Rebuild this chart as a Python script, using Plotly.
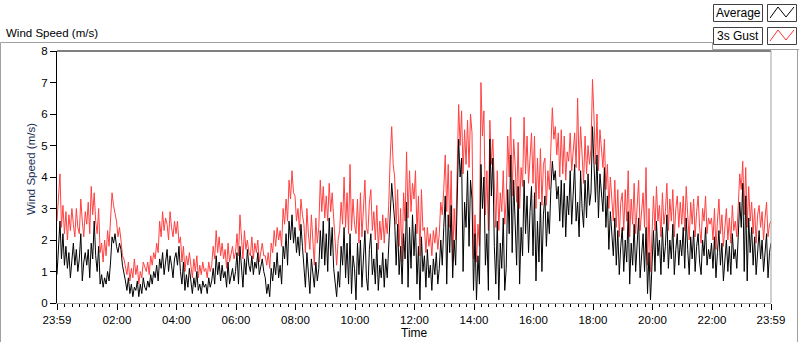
import plotly.graph_objects as go

# ---- data (wind speed, m/s), one sample every 3 minutes from 23:59 to 23:59 ----
step_minutes = 3
avg_speed = [
    0.9,2.0,2.6,1.4,2.2,1.2,1.8,1.1,1.6,0.8,1.5,1.9,1.2,1.7,1.0,1.4,2.2,0.7,1.3,1.6,
    1.2,1.7,0.8,1.9,1.4,2.6,1.5,1.0,1.8,0.6,0.9,0.5,0.8,0.6,1.0,0.7,1.3,2.1,1.9,2.2,
    1.8,1.6,1.9,1.7,1.2,1.0,0.7,0.4,0.8,0.3,0.6,0.2,0.5,0.4,0.7,0.2,0.6,0.3,0.8,0.5,
    0.4,0.7,0.5,0.9,0.6,1.0,0.8,1.2,0.7,1.4,1.1,1.6,0.9,1.3,1.7,1.0,1.5,1.2,0.8,1.4,
    1.6,1.2,1.8,1.0,0.6,1.3,0.4,0.9,0.5,1.1,0.7,0.3,0.8,0.5,1.0,0.4,0.6,0.3,0.7,0.5,
    0.6,0.3,0.8,0.5,0.7,1.1,0.6,1.5,0.9,1.3,0.7,1.2,0.8,1.0,0.5,1.3,0.6,0.9,1.1,0.7,
    1.0,1.6,0.6,1.8,1.1,0.5,1.4,0.9,1.7,1.2,1.0,1.5,0.9,1.3,1.1,1.6,0.9,1.2,1.4,1.0,
    0.8,0.3,0.6,0.2,1.1,0.7,1.3,0.9,1.6,0.8,1.2,0.6,1.8,1.4,2.2,1.2,2.6,2.0,2.8,1.9,
    2.4,1.6,2.1,1.5,2.5,1.8,1.2,0.5,1.6,0.9,0.3,1.4,0.8,0.5,1.3,0.7,1.1,2.3,1.4,2.6,
    1.2,2.2,1.0,2.7,1.5,2.4,1.1,0.6,0.2,1.0,0.5,1.8,1.2,2.4,0.8,1.9,0.6,2.2,0.3,1.5,
    1.1,0.1,1.9,0.9,2.0,0.5,1.6,2.3,0.8,0.4,1.7,2.2,0.9,1.4,0.6,1.9,0.4,1.2,0.8,1.6,
    0.5,1.4,0.8,1.8,3.0,3.8,3.2,2.6,1.2,2.5,0.9,1.8,0.6,2.2,1.4,3.2,0.5,2.4,1.1,2.8,
    1.5,2.5,0.6,1.8,0.1,2.1,1.0,1.5,0.5,1.7,0.8,1.2,0.4,1.4,0.9,1.6,0.6,1.1,2.0,1.2,
    2.4,3.4,0.6,2.8,1.6,3.1,0.8,2.0,1.2,3.6,5.2,4.0,4.6,1.0,3.2,2.4,4.2,1.8,3.9,3.3,
    0.4,2.2,0.1,1.5,0.6,4.4,3.0,4.0,1.2,2.2,0.4,5.2,3.4,4.6,1.8,0.6,2.6,0.1,1.9,1.1,
    2.7,0.4,1.1,3.6,2.2,4.7,1.6,3.9,2.8,1.2,3.7,0.6,2.4,1.5,3.9,2.2,3.4,1.6,2.9,3.7,
    1.5,3.5,0.7,2.6,1.3,3.2,1.0,2.8,3.4,1.8,2.9,2.2,3.6,4.5,3.9,4.2,3.3,3.7,2.6,3.9,
    2.4,3.8,2.1,3.4,2.8,4.2,2.5,3.6,4.4,2.6,3.2,2.1,4.2,3.0,2.4,3.9,2.7,4.1,3.1,3.5,
    5.6,4.4,3.2,4.7,2.7,4.1,3.5,2.9,4.3,2.4,3.4,1.7,2.9,2.2,1.5,2.7,1.2,2.3,0.9,1.8,
    2.4,1.0,2.0,1.3,2.9,0.6,1.9,1.2,2.5,1.0,1.8,2.7,0.8,1.5,2.2,1.0,2.4,0.3,1.6,0.1,
    1.3,2.3,1.0,2.6,1.5,2.0,0.9,2.4,1.3,1.8,2.8,1.1,2.0,1.4,2.5,0.9,1.7,2.2,1.2,2.0,
    1.5,2.4,1.1,2.7,1.7,0.9,2.1,1.4,2.3,1.0,1.8,2.2,1.3,0.9,2.0,1.5,2.4,1.2,1.7,1.4,
    1.9,1.1,2.1,0.8,1.6,2.3,1.2,1.9,0.7,1.5,2.0,1.0,1.8,0.9,2.2,1.4,1.7,1.1,2.0,3.2,
    2.4,3.8,1.0,3.4,0.7,2.7,1.6,2.4,1.2,2.1,0.9,1.8,2.3,1.4,2.0,1.0,1.7,2.2,0.8,1.6,
    1.9,
]
gust_speed = [
    2.6,3.2,4.1,2.4,3.1,2.2,2.9,2.0,2.8,2.3,3.0,2.5,2.1,3.0,2.4,2.2,3.3,2.6,2.1,2.9,
    2.5,3.2,2.2,3.7,2.8,3.5,2.6,2.2,3.0,1.6,1.9,1.3,2.0,1.5,2.3,1.8,2.6,3.5,3.1,2.9,
    2.6,2.1,2.4,2.0,1.5,1.4,1.2,0.9,1.3,0.7,1.1,0.8,1.4,0.9,1.2,0.6,1.0,0.8,1.3,1.1,
    1.0,1.3,0.9,1.5,1.2,1.6,1.4,1.9,1.6,2.6,2.1,2.9,2.3,2.7,2.5,2.0,2.9,2.4,2.1,2.6,
    2.2,2.6,1.9,2.1,1.3,1.8,1.0,1.5,1.2,1.6,1.1,0.8,1.4,1.0,1.5,0.8,1.2,0.9,1.3,1.0,
    1.1,0.8,1.3,1.0,1.2,1.8,1.4,2.3,1.6,2.1,1.5,1.9,1.4,1.7,1.1,1.9,1.3,1.6,1.8,1.4,
    1.6,2.2,1.5,2.8,1.9,1.4,2.3,1.7,2.0,1.6,1.5,2.1,1.4,1.9,1.6,2.0,1.3,1.7,1.9,1.5,
    1.5,1.2,1.6,1.1,1.9,1.6,2.3,1.8,2.4,2.0,2.3,1.8,3.0,2.5,3.3,2.6,3.9,3.3,4.2,3.5,
    3.4,2.6,3.0,2.3,3.3,2.8,2.5,1.6,3.0,2.2,1.7,2.8,2.1,1.2,2.7,1.9,2.4,3.9,2.9,3.7,
    2.7,3.4,2.6,3.8,2.9,3.5,2.7,1.9,1.2,2.0,2.3,3.2,2.5,4.0,2.4,3.5,2.2,4.4,2.3,3.3,
    2.5,2.2,3.3,1.9,3.5,2.1,3.0,3.9,2.4,2.2,3.2,3.6,2.3,2.9,2.0,3.1,1.7,2.6,2.0,2.8,
    1.9,2.7,2.2,3.1,4.6,5.6,4.4,4.0,2.5,3.6,1.8,3.0,1.3,3.5,2.6,4.8,2.7,4.2,2.9,3.8,
    3.3,4.2,2.2,3.4,1.5,3.6,2.3,2.4,1.6,2.4,1.8,2.2,1.5,2.3,1.9,2.4,1.7,2.2,3.2,2.8,
    3.6,4.7,2.9,4.4,2.4,4.2,1.3,3.0,2.0,4.8,6.3,5.0,6.1,4.1,5.5,4.4,5.8,4.3,6.0,5.4,
    1.4,2.8,1.3,2.5,1.8,7.0,5.3,6.1,2.8,4.2,2.3,5.8,4.4,5.2,3.6,2.4,4.2,2.3,3.5,2.9,
    4.2,2.5,3.3,5.3,4.0,5.9,3.4,5.2,4.4,3.2,5.1,3.0,4.3,3.7,5.9,4.1,5.3,3.8,4.6,5.4,
    3.8,5.3,3.0,4.6,3.3,4.9,3.1,4.4,4.6,3.1,4.2,3.6,4.9,6.2,5.2,5.6,4.7,5.4,4.0,5.5,
    4.1,5.3,3.9,4.8,4.5,5.4,4.2,5.0,5.4,4.3,6.5,4.2,5.6,4.7,3.8,5.3,4.1,5.0,4.4,4.9,
    7.1,5.9,4.4,6.0,4.2,5.5,4.8,4.3,5.2,3.6,4.4,3.0,4.0,3.4,2.6,3.9,2.4,3.6,2.1,3.2,
    3.5,2.3,3.6,2.6,4.2,2.1,3.3,2.5,3.8,2.2,3.0,3.9,2.3,2.8,3.5,2.4,4.3,1.2,3.0,1.0,
    2.2,3.4,2.3,3.7,2.6,3.1,2.1,3.5,2.5,2.9,3.8,2.3,3.3,2.6,3.6,2.1,3.0,3.4,2.4,3.2,
    2.5,3.4,2.3,3.7,2.8,2.0,3.2,2.5,3.3,2.1,2.9,3.4,2.4,1.9,3.0,2.6,3.4,2.2,2.7,2.5,
    2.7,2.0,3.0,1.7,2.6,3.3,2.2,2.8,1.8,2.5,3.0,2.0,2.7,1.9,3.1,2.3,2.6,2.1,3.0,4.1,
    3.6,4.5,2.8,4.3,2.4,3.7,2.6,3.2,2.2,3.0,1.9,2.8,3.1,2.4,2.9,2.0,2.7,3.2,2.1,2.5,
    2.6,
]
time_minutes = [i * step_minutes for i in range(len(avg_speed))]

major_tick_minutes = [0, 121, 241, 361, 481, 601, 721, 841, 961, 1081, 1201, 1321, 1440]
major_tick_labels = ["23:59", "02:00", "04:00", "06:00", "08:00", "10:00", "12:00",
                     "14:00", "16:00", "18:00", "20:00", "22:00", "23:59"]
minor_tick_minutes = [m for m in range(16, 1440, 15) if (m - 1) % 120 != 0]
y_ticks = [0, 1, 2, 3, 4, 5, 6, 7, 8]

# ---- geometry ----
W, H = 800, 342
L, R, T, B = 57, 29, 51, 39
PW, PH = W - L - R, H - T - B

def px(x):
    return (x - L) / PW

def py(y):
    return (H - B - y) / PH

FONT = "Liberation Sans"

fig = go.Figure()
fig.add_trace(go.Scatter(x=time_minutes, y=gust_speed, mode="lines", name="3s Gust",
                         line=dict(color="#ff4040", width=1), hoverinfo="skip"))
fig.add_trace(go.Scatter(x=time_minutes, y=avg_speed, mode="lines", name="Average",
                         line=dict(color="#000000", width=1), hoverinfo="skip"))

shapes = []
def line(x0, y0, x1, y1, color, width=1):
    shapes.append(dict(type="line", xref="paper", yref="paper",
                       x0=px(x0), y0=py(y0), x1=px(x1), y1=py(y1),
                       line=dict(color=color, width=width), layer="above"))

# outer frame
line(0.5, 42.5, 712.5, 42.5, "#a0a0a0")
line(712.5, 42.5, 712.5, 49.5, "#a0a0a0")
line(712.5, 49.5, 799, 49.5, "#a0a0a0")
line(797.5, 49.5, 797.5, 342, "#a0a0a0")
line(0.5, 42.5, 0.5, 342, "#a0a0a0")
# plot border (top black, right gray)
line(L, T, L + PW, T, "#000000")
line(L + PW, T, L + PW, H - B, "#a0a0a0")

# legend boxes
def rect(x0, y0, x1, y1, color):
    shapes.append(dict(type="rect", xref="paper", yref="paper",
                       x0=px(x0), y0=py(y0), x1=px(x1), y1=py(y1),
                       line=dict(color=color, width=1), fillcolor="white", layer="above"))

rect(713.5, 4.5, 762.5, 21.5, "#404040")
rect(767.5, 4.5, 796.5, 21.5, "#404040")
rect(713.5, 27.5, 762.5, 44.5, "#404040")
rect(767.5, 27.5, 796.5, 44.5, "#404040")

def zigzag(pts, color):
    d = "M " + " L ".join(f"{px(x)},{py(y)}" for x, y in pts)
    shapes.append(dict(type="path", xref="paper", yref="paper", path=d,
                       line=dict(color=color, width=1), layer="above"))

zigzag([(770, 18), (778, 7), (786, 17), (794, 7)], "#000000")
zigzag([(770, 41), (778, 30), (786, 40), (794, 30)], "#ff3030")

annotations = [
    dict(text="Wind Speed (m/s)", x=px(4), y=py(33), xref="paper", yref="paper",
         xanchor="left", yanchor="middle", showarrow=False,
         font=dict(family=FONT, size=11.5, color="#000000")),
    dict(text="Average", x=px(738), y=py(13), xref="paper", yref="paper",
         xanchor="center", yanchor="middle", showarrow=False,
         font=dict(family=FONT, size=12, color="#000000")),
    dict(text="3s Gust", x=px(738), y=py(36), xref="paper", yref="paper",
         xanchor="center", yanchor="middle", showarrow=False,
         font=dict(family=FONT, size=12, color="#000000")),
    dict(text="Time", x=px(414), y=py(333), xref="paper", yref="paper",
         xanchor="center", yanchor="middle", showarrow=False,
         font=dict(family=FONT, size=12, color="#000000")),
    dict(text="Wind Speed (m/s)", x=px(31), y=py(169), xref="paper", yref="paper",
         xanchor="center", yanchor="middle", showarrow=False, textangle=-90,
         font=dict(family=FONT, size=11.5, color="#1a2f55")),
]

fig.update_layout(
    width=W, height=H, autosize=False,
    margin=dict(l=L, r=R, t=T, b=B, pad=0),
    paper_bgcolor="white", plot_bgcolor="white",
    showlegend=False, hovermode=False,
    shapes=shapes, annotations=annotations,
    xaxis=dict(range=[0, 1440], tickmode="array", tickvals=major_tick_minutes,
               ticktext=major_tick_labels, ticks="outside", ticklen=6, tickwidth=1,
               tickcolor="#000000", showgrid=False, zeroline=False,
               showline=True, linecolor="#a0a0a0", linewidth=1, automargin=False,
               tickfont=dict(family=FONT, size=11.5, color="#000000"),
               minor=dict(tickmode="array", tickvals=minor_tick_minutes, ticks="outside",
                          ticklen=3, tickwidth=1, tickcolor="#000000", showgrid=False)),
    yaxis=dict(range=[0, 8], tickmode="array", tickvals=y_ticks, ticks="outside",
               ticklen=6, tickwidth=1, tickcolor="#000000", showgrid=False,
               zeroline=False, showline=True, linecolor="#000000", linewidth=1,
               automargin=False,
               tickfont=dict(family=FONT, size=11.5, color="#000000")),
)

fig.write_html("out.html", config={"displayModeBar": False},
               post_script="document.body.style.margin='0px';document.body.style.overflow='hidden';")
